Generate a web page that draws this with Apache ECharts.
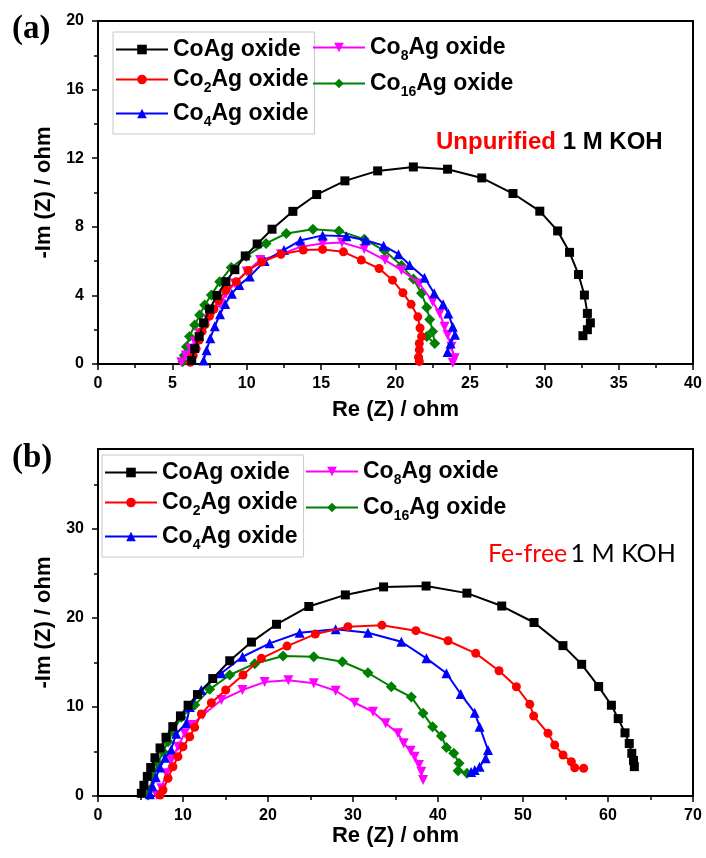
<!DOCTYPE html>
<html><head><meta charset="utf-8">
<script src="https://cdn.jsdelivr.net/npm/echarts@6/dist/echarts.min.js"></script>
<style>html,body{margin:0;padding:0;background:#fff}#c{width:706px;height:858px}</style>
</head><body><div id="c"></div>
<script>
// ---- Data (Re Z, -Im Z) ----
const seriesNames = ['CoAg oxide','Co2Ag oxide','Co4Ag oxide','Co8Ag oxide','Co16Ag oxide'];
const legendLabels = ['CoAg oxide','Co{s|2}Ag oxide','Co{s|4}Ag oxide','Co{s|8}Ag oxide','Co{s|16}Ag oxide'];
const xTicksA = [0,5,10,15,20,25,30,35,40];
const yTicksA = [0,4,8,12,16,20];
const xTicksB = [0,10,20,30,40,50,60,70];
const yTicksB = [0,10,20,30];
const yMinorB = [5,15,25,35];

// Panel (a): Unpurified 1 M KOH
const coAgA = [[6.3,0.2],[6.5,0.9],[6.8,1.6],[7.1,2.4],[7.5,3.2],[8.0,4.0],[8.6,4.8],[9.2,5.5],[9.9,6.3],[10.7,7.0],[11.7,7.86],[13.1,8.9],[14.7,9.88],[16.6,10.68],[18.8,11.26],[21.2,11.49],[23.5,11.36],[25.8,10.85],[27.9,9.94],[29.7,8.91],[30.9,7.76],[31.7,6.51],[32.3,5.22],[32.7,4.02],[32.9,2.95],[33.1,2.4],[32.9,2.0],[32.6,1.65]];
const co2AgA = [[6.2,0.1],[6.4,0.5],[6.6,0.9],[6.8,1.4],[7.0,1.9],[7.2,2.3],[7.5,2.8],[7.8,3.2],[8.1,3.7],[8.6,4.3],[9.3,4.8],[10.1,5.45],[11.0,5.95],[12.3,6.4],[13.8,6.64],[15.1,6.68],[16.5,6.54],[17.7,6.06],[18.9,5.57],[19.8,4.89],[20.5,4.15],[21.05,3.48],[21.5,2.75],[21.65,2.1],[21.75,1.6],[21.6,1.2],[21.6,0.82],[21.55,0.4],[21.6,0.15]];
const co4AgA = [[7.1,0.2],[7.3,0.8],[7.55,1.5],[7.85,2.2],[8.2,2.9],[8.55,3.5],[9.0,4.1],[9.5,4.6],[10.2,5.1],[11.2,6.0],[12.5,6.65],[13.6,7.2],[15.1,7.5],[16.7,7.45],[18.0,7.22],[19.2,6.9],[20.2,6.4],[20.95,5.77],[21.95,5.03],[22.6,4.12],[23.2,3.49],[23.55,2.95],[23.85,2.17],[24.0,1.7],[23.7,1.2],[23.5,0.7]];
const co8AgA = [[5.6,0.1],[5.9,0.5],[6.2,0.9],[6.5,1.3],[6.8,1.8],[7.1,2.2],[7.4,2.6],[7.8,3.1],[8.2,3.5],[8.6,4.1],[9.2,4.7],[10.0,5.4],[10.9,6.06],[12.3,6.4],[13.6,6.83],[15.1,7.03],[16.4,7.08],[17.9,6.7],[19.3,6.06],[20.4,5.47],[21.6,4.7],[22.5,3.63],[22.97,2.95],[23.3,2.17],[23.5,1.69],[23.76,1.01],[23.98,0.33],[23.85,0.08]];
const co16AgA = [[5.7,0.15],[5.8,0.5],[5.95,1.0],[6.15,1.6],[6.5,2.27],[6.83,2.85],[7.17,3.44],[7.62,4.02],[8.18,4.79],[8.96,5.63],[9.97,6.29],[11.3,7.03],[12.66,7.61],[14.45,7.86],[16.2,7.76],[17.9,7.28],[19.27,6.6],[20.4,5.75],[21.2,4.95],[21.75,4.12],[22.1,3.3],[22.3,2.6],[22.5,1.9],[22.64,1.2],[22.1,1.6]];

// Panel (b): Fe-free 1 M KOH
const coAgB = [[5.1,0.3],[5.4,1.2],[5.8,2.2],[6.2,3.2],[6.7,4.3],[7.3,5.4],[8.0,6.6],[8.8,7.8],[9.7,9.0],[10.6,10.2],[11.7,11.4],[13.5,13.2],[15.5,15.2],[18.05,17.3],[21.0,19.3],[24.8,21.3],[29.1,22.6],[33.6,23.5],[38.6,23.6],[43.4,22.8],[47.5,21.35],[51.3,19.5],[54.7,16.9],[56.9,14.8],[58.9,12.3],[60.4,10.2],[61.2,8.7],[62.0,7.1],[62.5,5.9],[62.8,4.8],[63.0,4.0],[63.1,3.3]];
const co2AgB = [[7.3,0.1],[7.65,0.67],[8.24,1.99],[8.82,3.29],[9.41,4.42],[10.0,5.54],[10.79,6.66],[11.37,7.72],[12.16,9.21],[13.34,10.48],[15.02,11.91],[17.06,13.6],[19.22,15.47],[22.24,16.85],[25.57,18.2],[29.41,19.02],[33.4,19.2],[37.4,18.58],[41.18,17.45],[44.44,16.03],[47.18,14.08],[49.22,12.28],[50.8,10.3],[51.26,8.99],[52.94,7.04],[53.73,5.73],[54.71,4.61],[55.69,3.85],[56.08,3.18],[57.14,3.11]];
const co4AgB = [[6.1,0.2],[6.4,1.1],[6.8,2.1],[7.3,3.2],[7.9,4.3],[8.6,5.2],[9.2,7.0],[10.4,8.2],[10.8,10.0],[12.15,11.9],[14.5,13.8],[17.0,15.65],[20.2,17.16],[23.73,18.35],[27.96,18.73],[31.76,18.35],[35.69,17.34],[38.64,15.47],[40.99,13.79],[42.67,11.46],[44.32,9.36],[44.9,7.79],[45.88,5.17],[45.61,4.24],[44.9,3.29],[44.32,2.92],[43.9,2.7]];
const co8AgB = [[6.9,0.1],[7.46,0.87],[8.04,2.55],[8.63,4.04],[9.41,5.54],[10.19,7.04],[10.99,7.98],[12.34,9.1],[14.52,10.79],[16.99,11.91],[19.6,12.8],[22.4,13.0],[25.38,12.66],[27.96,11.83],[30.2,10.48],[32.35,9.47],[33.84,8.17],[35.29,7.04],[35.96,5.92],[36.78,5.09],[37.25,4.42],[37.76,3.48],[38.04,2.73],[38.24,1.8]];
const co16AgB = [[5.9,0.1],[6.08,0.67],[6.47,2.17],[7.06,3.67],[7.65,4.98],[8.24,6.1],[8.82,7.3],[9.81,8.84],[11.38,10.22],[13.14,11.99],[15.49,13.6],[18.44,14.87],[21.77,15.73],[25.38,15.65],[28.75,15.09],[31.76,13.85],[34.51,12.28],[36.87,11.12],[38.24,9.29],[39.37,7.79],[40.4,6.75],[40.99,5.45],[41.85,4.8],[42.48,3.67],[42.36,2.84],[43.41,2.55]];

const dataA = [coAgA, co2AgA, co4AgA, co8AgA, co16AgA];
const dataB = [coAgB, co2AgB, co4AgB, co8AgB, co16AgB];
const colors = ['#000000','#ff0000','#0000ff','#ff00ff','#008000'];
const symbols = ['rect','circle','triangle','triangle','diamond'];
const symbolSizes = [9,9,10,10,11];
const symbolRotates = [0,0,0,180,0];

// ---- Chart ----
const chart = echarts.init(document.getElementById('c'), null, {renderer:'canvas'});
const F = 'Arial, "Liberation Sans", sans-serif';
const tickFont = {fontFamily:F, fontWeight:'bold', fontSize:16, color:'#000'};
const nameFont = {fontFamily:F, fontWeight:'bold', fontSize:22, color:'#000'};

function series(data, xi, yi){
  return data.map((d,i)=>({
    name: seriesNames[i], type:'line', xAxisIndex:xi, yAxisIndex:yi,
    data:d, symbol:symbols[i], symbolSize:symbolSizes[i], symbolRotate:symbolRotates[i],
    showAllSymbol:true, smooth:false, animation:false, z: 10-i,
    lineStyle:{color:colors[i], width:2}, itemStyle:{color:colors[i]}
  }));
}
const legendRich = {
  n:{fontFamily:F, fontWeight:'bold', fontSize:23, color:'#000', lineHeight:26},
  s:{fontFamily:F, fontWeight:'bold', fontSize:14, color:'#000', lineHeight:14, padding:[17,0,0,0]}
};
function legend(names, left, top, border, gap){
  return {
    data: names, orient:'vertical', left:left, top:top,
    itemWidth:52, itemHeight:12, itemGap:gap,
    borderColor: border ? '#c8c8c8' : 'transparent', borderWidth: border?1:0,
    padding: border ? [6,6,5,2] : [2,2,2,2],
    formatter: n => { const l = legendLabels[seriesNames.indexOf(n)]; return '{n|' + l.replace(/\{s\|(\d+)\}/g, '}{s|$1}{n|') + '}'; },
    textStyle:{rich:legendRich},
    selectedMode:false
  };
}
function baseX(gi, max, interval, gap){
  return {type:'value', gridIndex:gi, min:0, max:max, interval:interval,
    name:'Re (Z) / ohm', nameLocation:'middle', nameGap:gap, nameTextStyle:nameFont,
    axisLine:{show:true, lineStyle:{color:'#000', width:2}},
    axisTick:{show:true, inside:false, length:6, lineStyle:{color:'#000', width:1.5}},
    minorTick:{show:true, splitNumber:2, length:4, lineStyle:{color:'#000', width:1.5}},
    axisLabel:{...tickFont, margin:12},
    splitLine:{show:false}};
}
const yName = {name:'-Im (Z) / ohm', nameLocation:'middle', nameGap:39, nameTextStyle:nameFont};

const option = {
  backgroundColor:'#fff',
  animation:false,
  grid:[
    {left:98, top:21, width:595, height:343, show:true, borderColor:'#000', borderWidth:2, backgroundColor:'transparent'},
    {left:98, top:449, width:595, height:347, show:true, borderColor:'#000', borderWidth:2, backgroundColor:'transparent'}
  ],
  xAxis:[ baseX(0,40,5,35), baseX(1,70,10,26) ],
  yAxis:[
    {type:'value', gridIndex:0, min:0, max:20, interval:4, ...yName,
      axisLine:{show:true, lineStyle:{color:'#000', width:2}},
      axisTick:{show:true, length:6, lineStyle:{color:'#000', width:1.5}},
      minorTick:{show:true, splitNumber:2, length:4, lineStyle:{color:'#000', width:1.5}},
      axisLabel:{...tickFont, margin:14}, splitLine:{show:false}},
    {type:'value', gridIndex:1, min:0, max:39, ...yName,
      axisLine:{show:true, lineStyle:{color:'#000', width:2}},
      axisTick:{show:true, length:6, customValues:yTicksB, lineStyle:{color:'#000', width:1.5}},
      axisLabel:{...tickFont, margin:14, customValues:yTicksB}, splitLine:{show:false}},
    {type:'value', gridIndex:1, min:0, max:39, position:'left',
      axisLine:{show:false},
      axisTick:{show:true, length:4, customValues:yMinorB, lineStyle:{color:'#000', width:1.5}},
      axisLabel:{show:false}, splitLine:{show:false}}
  ],
  legend:[
    legend(seriesNames.slice(0,3), 113, 32, true, 3),
    legend(seriesNames.slice(3), 310, 30, false, 5),
    legend(seriesNames.slice(0,3), 102, 455, true, 3),
    legend(seriesNames.slice(3), 303, 454, false, 5)
  ],
  graphic:[
    {type:'text', left:12, top:13, style:{text:'(a)', font:'bold 33px "Liberation Serif", "Times New Roman", serif', fill:'#000'}},
    {type:'text', left:12, top:442, style:{text:'(b)', font:'bold 33px "Liberation Serif", "Times New Roman", serif', fill:'#000'}},
    {type:'text', left:436, top:130, style:{text:'{r|Unpurified}  {k|1 M KOH}', rich:{
      r:{fontFamily:F, fontWeight:'bold', fontSize:24, fill:'#ff0000'},
      k:{fontFamily:F, fontWeight:'bold', fontSize:24, fill:'#000'}}}},
    {type:'text', left:488, top:541, style:{text:'{r|Fe-free} {k|1 M KOH}', rich:{
      r:{fontFamily:'Lato, "Open Sans", sans-serif', fontWeight:'normal', fontSize:25, fill:'#ff0000'},
      k:{fontFamily:'Lato, "Open Sans", sans-serif', fontWeight:'normal', fontSize:25, fill:'#000'}}}}
  ],
  series:[ ...series(dataA,0,0), ...series(dataB,1,1) ]
};
chart.setOption(option);
</script></body></html>
